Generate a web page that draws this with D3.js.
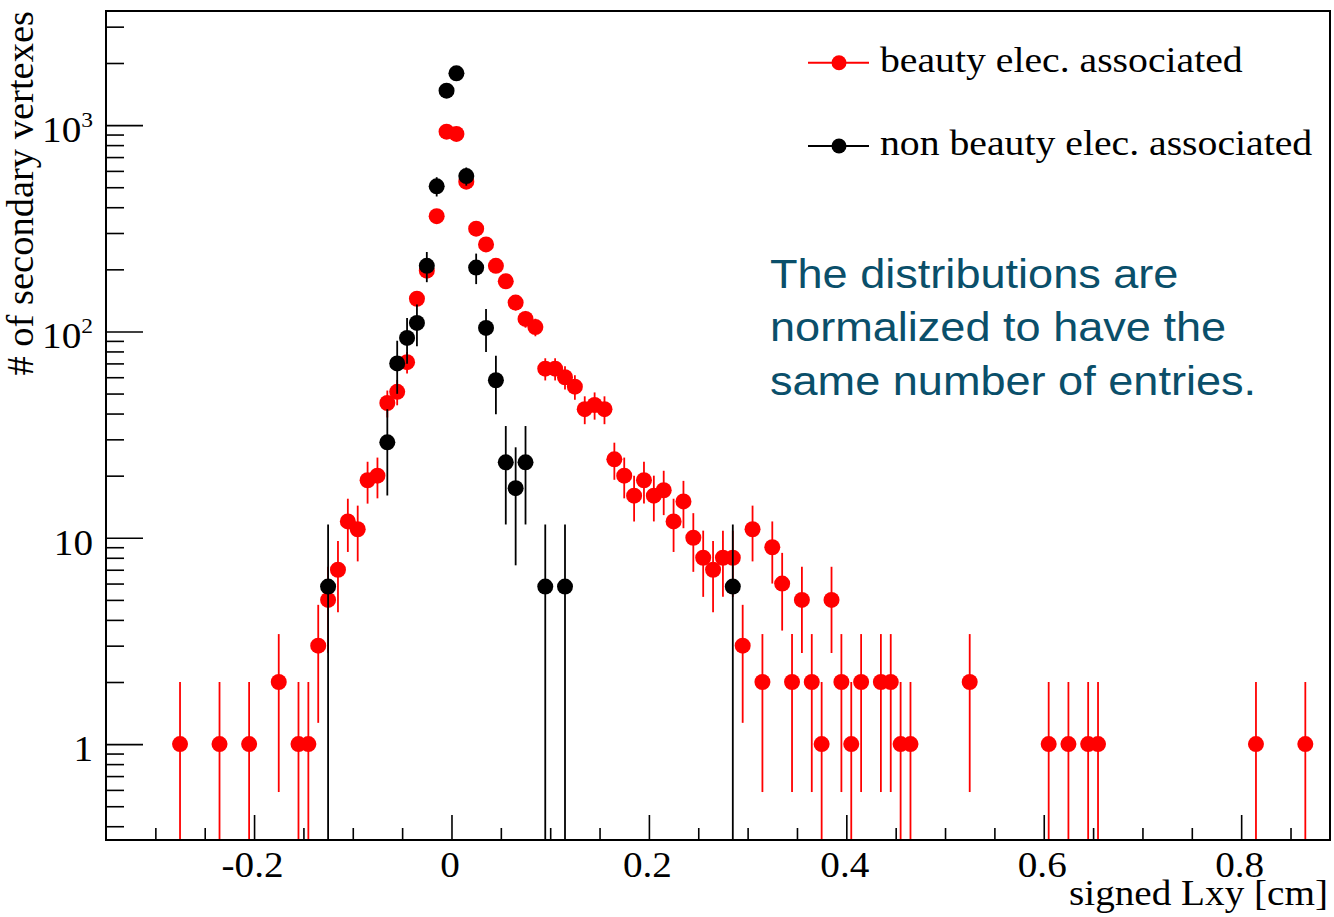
<!DOCTYPE html>
<html>
<head>
<meta charset="utf-8">
<script src="https://cdn.jsdelivr.net/npm/d3@7"></script>
<style>
  html, body { margin: 0; padding: 0; background: #ffffff; }
  svg { display: block; }
</style>
</head>
<body>
<svg id="chart" width="1334" height="917"></svg>
<script>
// ---------- data (bin centres in cm, entries per bin) ----------
const redX = [-0.275,-0.235,-0.205,-0.175,-0.155,-0.145,-0.135,-0.125,-0.115,-0.105,-0.095,-0.085,-0.075,-0.065,-0.055,-0.045,-0.035,-0.025,-0.015,-0.005,
  0.005,0.015,0.025,0.035,0.045,0.055,0.065,0.075,0.085,0.095,0.105,0.115,0.125,0.135,0.145,0.155,0.165,0.175,0.185,0.195,0.205,0.215,0.225,0.235,0.245,
  0.255,0.265,0.275,0.285,0.295,0.305,0.315,0.325,0.335,0.345,0.355,0.365,0.375,0.385,0.395,0.405,0.415,0.435,0.445,0.455,0.465,0.525,0.605,0.625,0.645,0.655,0.815,0.865];
const redY = [1,1,1,2,1,1,3,5,7,12,11,19,20,45,51,71,144,197,362,929,
  906,532,315,264,208,175,138,115,105,66,66,60,54,42,44,42,24,20,16,19,16,17,12,15,10,
  8,7,8,8,3,11,2,9,6,2,5,2,1,5,2,1,2,2,2,1,1,2,1,1,1,1,1,1];

const blackX = [-0.125,-0.065,-0.055,-0.045,-0.035,-0.025,-0.015,-0.005,0.005,0.015,0.025,0.035,0.045,0.055,0.065,0.075,0.095,0.115,0.285];
const blackY = [5.8,29,70,93,110,208,505,1468,1783,566,204,104,58,23.2,17.4,23.2,5.8,5.8,5.8];
const blackWeight = 5.8;   // weight per entry of the normalized histogram

const xMajorTicks = [-0.2, 0, 0.2, 0.4, 0.6, 0.8];
const xTickLabels = ["-0.2", "0", "0.2", "0.4", "0.6", "0.8"];
const yMajorTicks = [1, 10, 100, 1000];
const yTickBase = ["1", "10", "10", "10"];
const yTickExp  = ["", "", "2", "3"];

const seriesNames = ["beauty elec. associated", "non beauty elec. associated"];
const seriesColors = ["#ff0000", "#000000"];
const noteLines = ["The distributions are", "normalized to have the", "same number of entries."];

// ---------- layout ----------
const L = 106, R = 1330, T = 11, B = 840;
const serif = "'Liberation Serif', 'Times New Roman', serif";
const sans = "'Liberation Sans', Arial, sans-serif";
const sx = 1.12;

const svg = d3.select("#chart");
const x = d3.scaleLinear().domain([-0.35, 0.89]).range([L, R]);
const y = d3.scaleLog().domain([0.343, 3573]).range([B, T]);

svg.append("defs").append("clipPath").attr("id", "clip")
  .append("rect").attr("x", L).attr("y", T).attr("width", R - L).attr("height", B - T);

// ---------- axes ----------
const xMinor = d3.range(-6, 18).map(i => +(i * 0.05).toFixed(2)).filter(v => !xMajorTicks.some(m => Math.abs(m - v) < 1e-9));
svg.append("g").attr("transform", `translate(0,${B})`)
  .call(d3.axisBottom(x).tickValues(xMinor).tickSizeInner(-12).tickSizeOuter(0).tickFormat(""))
  .call(g => g.select(".domain").remove())
  .call(g => g.selectAll("line").attr("stroke", "#000").attr("stroke-width", 1.6));

const xAx = svg.append("g").attr("transform", `translate(0,${B})`)
  .call(d3.axisBottom(x).tickValues(xMajorTicks).tickSizeInner(-25).tickSizeOuter(0)
    .tickFormat((d, i) => xTickLabels[i]));
xAx.select(".domain").remove();
xAx.selectAll("line").attr("stroke", "#000").attr("stroke-width", 1.6);
xAx.selectAll("text")
  .attr("y", 36.7).attr("dy", null).attr("x", -2 / sx)
  .attr("transform", `scale(${sx},1)`)
  .attr("fill", "#000").attr("font-family", serif).attr("font-size", 35)
  .attr("text-anchor", "middle");

const yMinor = [];
[0.1, 1, 10, 100, 1000].forEach(dec => { for (let k = 2; k <= 9; k++) { const v = dec * k; if (v > 0.343 && v < 3573) yMinor.push(v); } });
svg.append("g").attr("transform", `translate(${L},0)`)
  .call(d3.axisLeft(y).tickValues(yMinor).tickSizeInner(-18).tickSizeOuter(0).tickFormat(""))
  .call(g => g.select(".domain").remove())
  .call(g => g.selectAll("line").attr("stroke", "#000").attr("stroke-width", 1.6));

const yAx = svg.append("g").attr("transform", `translate(${L},0)`)
  .call(d3.axisLeft(y).tickValues(yMajorTicks).tickSizeInner(-37).tickSizeOuter(0).tickFormat(""));
yAx.select(".domain").remove();
yAx.selectAll("line").attr("stroke", "#000").attr("stroke-width", 1.6);
yAx.selectAll(".tick").each(function(d, i) {
  const t = d3.select(this).select("text")
    .attr("x", -13 / sx).attr("y", 16.5).attr("dy", null)
    .attr("transform", `scale(${sx},1)`)
    .attr("fill", "#000").attr("font-family", serif).attr("font-size", 35)
    .attr("text-anchor", "end");
  t.text(null);
  t.append("tspan").text(yTickBase[i]);
  if (yTickExp[i]) t.append("tspan").attr("dy", -15).attr("font-size", 21).text(yTickExp[i]);
});

// ---------- data marks ----------
function drawSeries(xs, ys, errFn, color) {
  const g = svg.append("g").attr("clip-path", "url(#clip)");
  const pts = xs.map((v, i) => ({ x: v, y: ys[i], e: errFn(ys[i]) }));
  g.selectAll("line.err").data(pts).join("line")
    .attr("class", "err")
    .attr("x1", d => x(d.x)).attr("x2", d => x(d.x))
    .attr("y1", d => y(d.y + d.e))
    .attr("y2", d => (d.y - d.e) > 0 ? y(d.y - d.e) : B + 20)
    .attr("stroke", color).attr("stroke-width", 1.8);
  g.selectAll("circle").data(pts).join("circle")
    .attr("cx", d => x(d.x)).attr("cy", d => y(d.y)).attr("r", 8)
    .attr("fill", color);
}
drawSeries(redX, redY, v => Math.sqrt(v), seriesColors[0]);
drawSeries(blackX, blackY, v => Math.sqrt(v * blackWeight), seriesColors[1]);

// ---------- frame ----------
svg.append("rect").attr("x", L).attr("y", T).attr("width", R - L).attr("height", B - T)
  .attr("fill", "none").attr("stroke", "#000").attr("stroke-width", 2);

// ---------- titles ----------
svg.append("text")
  .attr("transform", `translate(1328,905) scale(${sx},1)`)
  .attr("text-anchor", "end").attr("font-family", serif).attr("font-size", 35).attr("fill", "#000")
  .text("signed Lxy [cm]");

svg.append("text")
  .attr("transform", "translate(33,11) rotate(-90)")
  .attr("text-anchor", "end").attr("font-family", serif).attr("font-size", 38.5).attr("fill", "#000")
  .text("# of secondary vertexes");

// ---------- legend ----------
const legY = [62.7, 146];
seriesNames.forEach((name, i) => {
  const lg = svg.append("g");
  lg.append("line").attr("x1", 808).attr("x2", 869).attr("y1", legY[i]).attr("y2", legY[i])
    .attr("stroke", seriesColors[i]).attr("stroke-width", 2);
  lg.append("circle").attr("cx", 839).attr("cy", legY[i]).attr("r", 7.5).attr("fill", seriesColors[i]);
  lg.append("text")
    .attr("transform", `translate(880,${legY[i] + 9}) scale(1.135,1)`)
    .attr("font-family", serif).attr("font-size", 35).attr("fill", "#000")
    .text(name);
});

// ---------- annotation ----------
const noteBase = [287.7, 341.3, 395];
noteLines.forEach((line, i) => {
  svg.append("text")
    .attr("transform", `translate(770,${noteBase[i]}) scale(1.1,1)`)
    .attr("font-family", sans).attr("font-size", 41).attr("fill", "#0a4f6a")
    .text(line);
});
</script>
</body>
</html>
